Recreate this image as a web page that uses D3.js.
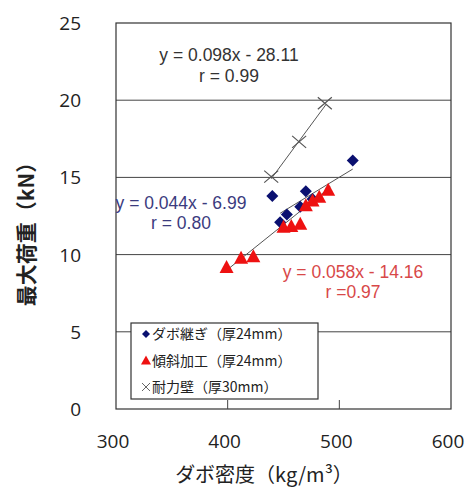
<!DOCTYPE html>
<html>
<head>
<meta charset="utf-8">
<script src="https://cdn.jsdelivr.net/npm/d3@7"></script>
<style>
  body { margin: 0; background: #fff; }
  text { font-family: "Open Sans", "Noto Sans CJK JP", sans-serif; }
</style>
</head>
<body>
<div id="chart"></div>
<script>
// data
const dowelX = [440, 512, 470, 453, 447, 465, 476];
const dowelY = [13.8, 16.1, 14.1, 12.6, 12.1, 13.1, 13.6];
const slopeX = [399, 412, 423, 450, 457, 465, 476, 482, 490, 470];
const slopeY = [9.2, 9.8, 9.9, 11.8, 11.85, 12.0, 13.5, 13.75, 14.2, 13.2];
const wallX = [439, 464, 487];
const wallY = [15.05, 17.3, 19.8];
const fits = [
  {name: "dowel", a: 0.044, b: -6.99, x0: 447, x1: 512, eq: "y = 0.044x - 6.99", r: "r = 0.80"},
  {name: "slope", a: 0.058, b: -14.16, x0: 399, x1: 492, eq: "y = 0.058x - 14.16", r: "r =0.97"},
  {name: "wall", a: 0.098, b: -28.11, x0: 439, x1: 488, eq: "y = 0.098x - 28.11", r: "r = 0.99"}
];
const xTicks = [300, 400, 500, 600];
const yTicks = [0, 5, 10, 15, 20, 25];
const legendLabels = ["ダボ継ぎ（厚24mm）", "傾斜加工（厚24mm）", "耐力壁（厚30mm）"];

const W = 476, H = 490;
const margin = {top: 23, right: 25, bottom: 81, left: 116};

const svg = d3.select("#chart").append("svg")
    .attr("width", W).attr("height", H);

const x = d3.scaleLinear().domain([300, 600]).range([margin.left, W - margin.right]);
const y = d3.scaleLinear().domain([0, 25]).range([H - margin.bottom, margin.top]);

// gridlines
svg.append("g")
    .selectAll("line")
    .data(yTicks.filter(d => d > 0 && d < 25))
    .join("line")
    .attr("x1", x(300)).attr("x2", x(600))
    .attr("y1", d => y(d)).attr("y2", d => y(d))
    .attr("stroke", "#444").attr("stroke-width", 1);

// plot frame
svg.append("rect")
    .attr("x", x(300)).attr("y", y(25))
    .attr("width", x(600) - x(300)).attr("height", y(0) - y(25))
    .attr("fill", "none").attr("stroke", "#333").attr("stroke-width", 1.2);

// inner ticks on bottom
svg.append("g")
    .selectAll("line")
    .data([400, 500])
    .join("line")
    .attr("x1", d => x(d)).attr("x2", d => x(d))
    .attr("y1", y(0)).attr("y2", y(0) - 9)
    .attr("stroke", "#444");

// tick labels
svg.append("g")
    .selectAll("text")
    .data(yTicks)
    .join("text")
    .attr("x", 81).attr("y", d => y(d) + 7)
    .attr("text-anchor", "end")
    .attr("font-size", 19).attr("fill", "#222")
    .text(d => d);

svg.append("g")
    .selectAll("text")
    .data(xTicks)
    .join("text")
    .attr("x", d => x(d) - 3).attr("y", 448)
    .attr("text-anchor", "middle")
    .attr("font-size", 19).attr("fill", "#222")
    .text(d => d);

// axis titles
svg.append("text")
    .attr("transform", "translate(34, 229) rotate(-90)")
    .attr("text-anchor", "middle")
    .attr("font-size", 21).attr("font-weight", "bold").attr("fill", "#222")
    .style("font-family", "'Noto Sans CJK JP', sans-serif")
    .text("最大荷重（kN）");

svg.append("text")
    .attr("x", 264).attr("y", 482)
    .attr("text-anchor", "middle")
    .attr("font-size", 20).attr("fill", "#222")
    .style("font-family", "'Noto Sans CJK JP', sans-serif")
    .text("ダボ密度（kg/m³）");

// regression lines
svg.append("g")
    .selectAll("line")
    .data(fits)
    .join("line")
    .attr("x1", d => x(d.x0)).attr("y1", d => y(d.a * d.x0 + d.b))
    .attr("x2", d => x(d.x1)).attr("y2", d => y(d.a * d.x1 + d.b))
    .attr("stroke", "#555").attr("stroke-width", 1);

// series
const wall = d3.zip(wallX, wallY);
const dowel = d3.zip(dowelX, dowelY);
const slope = d3.zip(slopeX, slopeY);

svg.append("g")
    .selectAll("path")
    .data(wall)
    .join("path")
    .attr("transform", d => `translate(${x(d[0])},${y(d[1])})`)
    .attr("d", "M-7,-6L7,6M-7,6L7,-6")
    .attr("stroke", "#555").attr("stroke-width", 1.2).attr("fill", "none");

svg.append("g")
    .selectAll("path")
    .data(dowel)
    .join("path")
    .attr("transform", d => `translate(${x(d[0])},${y(d[1])})`)
    .attr("d", "M0,-6L6,0L0,6L-6,0Z")
    .attr("fill", "#0a1070");

svg.append("g")
    .selectAll("path")
    .data(slope)
    .join("path")
    .attr("transform", d => `translate(${x(d[0])},${y(d[1])})`)
    .attr("d", "M0,-7L7,6L-7,6Z")
    .attr("fill", "#ee1111");

// equation labels
const labelPos = {
  wall: {x: 229, y1: 61, y2: 82, col: "#333"},
  dowel: {x: 181, y1: 209, y2: 229, col: "#3b3b7e"},
  slope: {x: 353, y1: 278, y2: 298, col: "#d84848"}
};
const lab = svg.append("g");
fits.forEach(f => {
  const p = labelPos[f.name];
  lab.append("text").attr("x", p.x).attr("y", p.y1)
    .attr("text-anchor", "middle").attr("font-size", 17.5).attr("fill", p.col)
    .style("font-family", "'Liberation Sans', Arial, sans-serif")
    .text(f.eq);
  lab.append("text").attr("x", p.x).attr("y", p.y2)
    .attr("text-anchor", "middle").attr("font-size", 17.5).attr("fill", p.col)
    .style("font-family", "'Liberation Sans', Arial, sans-serif")
    .text(f.r);
});

// legend
const lg = svg.append("g").attr("transform", "translate(131, 323)");
lg.append("rect")
    .attr("width", 187).attr("height", 76)
    .attr("fill", "#fff").attr("stroke", "#333").attr("stroke-width", 1.2);

const legendMarks = [
  {d: "M0,-4L4,0L0,4L-4,0Z", fill: "#0a1070", stroke: "none"},
  {d: "M0,-5L5,4L-5,4Z", fill: "#ee1111", stroke: "none"},
  {d: "M-4,-4L4,4M-4,4L4,-4", fill: "none", stroke: "#666"}
];
const rows = lg.selectAll("g.row")
    .data(legendLabels)
    .join("g")
    .attr("class", "row")
    .attr("transform", (d, i) => `translate(0, ${11 + i * 26.5})`);
rows.append("path")
    .attr("transform", "translate(15, 0)")
    .attr("d", (d, i) => legendMarks[i].d)
    .attr("fill", (d, i) => legendMarks[i].fill)
    .attr("stroke", (d, i) => legendMarks[i].stroke);
rows.append("text")
    .attr("x", 21).attr("y", 5)
    .attr("font-size", 14).attr("fill", "#222")
    .style("font-family", "'Noto Sans CJK JP', sans-serif")
    .text(d => d);
</script>
</body>
</html>
